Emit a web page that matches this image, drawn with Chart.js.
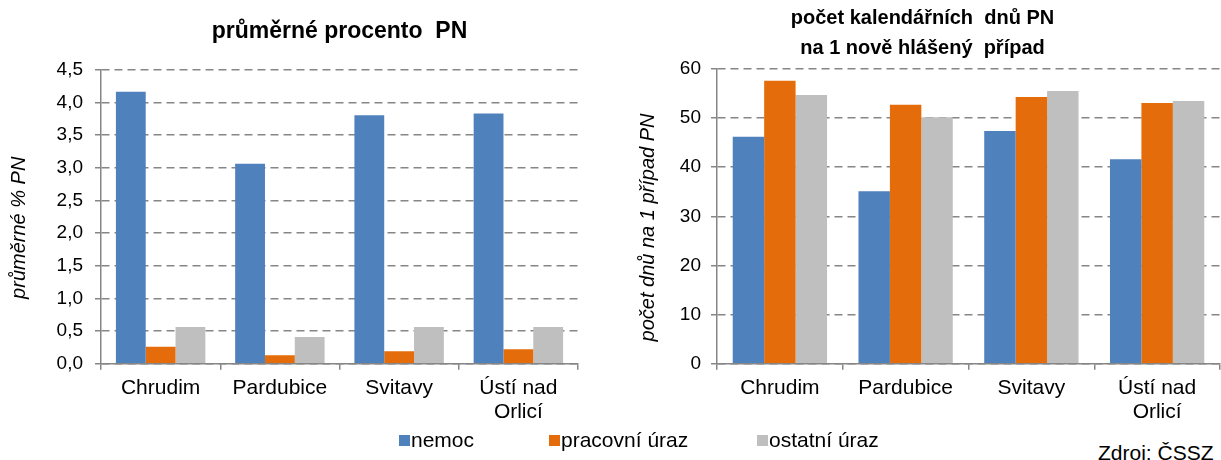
<!DOCTYPE html>
<html>
<head>
<meta charset="utf-8">
<script src="https://cdn.jsdelivr.net/npm/chart.js@4"></script>
<style>
  body { margin: 0; background: #fff; font-family: "Liberation Sans", Arial, sans-serif; }
  #wrap { position: relative; width: 1221px; height: 460px; overflow: hidden; }
  .box { position: absolute; }
  .leg { position: absolute; font-size: 21px; line-height: 22px; color: #000; white-space: nowrap; }
  .sq { position: absolute; width: 11px; height: 11px; }
</style>
</head>
<body>
<div id="wrap">
  <div class="box" style="left:0;top:0;width:590px;height:430px"><canvas id="leftChart"></canvas></div>
  <div class="box" style="left:625px;top:0;width:596px;height:430px"><canvas id="rightChart"></canvas></div>
  <div id="legend"></div>
  <div class="leg" style="left:1098px;top:442px">Zdroj: ČSSZ</div>
</div>
<script>
// ===========================
// DATA
// ===========================
const categories = ['Chrudim', 'Pardubice', 'Svitavy', ['Ústí nad', 'Orlicí']];
const seriesNames = ['nemoc', 'pracovní úraz', 'ostatní úraz'];
const seriesColors = ['#4F81BD', '#E46C0A', '#BFBFBF'];

// průměrné procento PN
const pctNemoc    = [4.16, 3.06, 3.80, 3.83];
const pctPracUraz = [0.26, 0.13, 0.19, 0.22];
const pctOstUraz  = [0.56, 0.41, 0.56, 0.56];

// počet kalendářních dnů PN na 1 nově hlášený případ
const daysNemoc    = [46.2, 35.1, 47.4, 41.6];
const daysPracUraz = [57.6, 52.7, 54.3, 53.1];
const daysOstUraz  = [54.7, 50.2, 55.5, 53.5];

const leftTicks  = [0, 0.5, 1, 1.5, 2, 2.5, 3, 3.5, 4, 4.5];
const rightTicks = [0, 10, 20, 30, 40, 50, 60];

const FONT = '"Liberation Sans", Arial, sans-serif';
Chart.defaults.font.family = FONT;
Chart.defaults.color = '#000';

function makeDatasets(values) {
  return values.map((v, i) => ({
    label: seriesNames[i],
    data: v,
    backgroundColor: seriesColors[i],
    borderWidth: 0,
    barPercentage: 1,
    categoryPercentage: 0.75,
  }));
}

function makeChart(id, values, opts) {
  return new Chart(document.getElementById(id), {
    type: 'bar',
    data: { labels: categories, datasets: makeDatasets(values) },
    options: {
      responsive: true,
      maintainAspectRatio: false,
      animation: false,
      layout: { padding: { top: 0, right: opts.padRight, left: 0, bottom: 0 } },
      plugins: {
        legend: { display: false },
        tooltip: { enabled: false },
        title: {
          display: true,
          fullSize: opts.titleFull,
          text: opts.title,
          font: { size: opts.titleSize, weight: 'bold', lineHeight: opts.titleLH },
          color: '#000',
          padding: opts.titlePad,
        }
      },
      scales: {
        x: {
          grid: {
            offset: true,
            drawOnChartArea: false,
            color: '#868686',
            tickLength: 6,
            lineWidth: 1.5,
          },
          border: { color: '#868686', width: 1.5 },
          ticks: { font: { size: 21, lineHeight: 1.15 }, color: '#000', padding: 6, maxRotation: 0 },
        },
        y: {
          min: 0,
          max: opts.ticks[opts.ticks.length - 1],
          afterBuildTicks: axis => { axis.ticks = opts.ticks.map(v => ({ value: v })); },
          afterFit: axis => { axis.width = opts.axisW; },
          grid: {
            color: '#868686',
            lineWidth: 1.5,
            tickLength: 6,
            tickBorderDash: [],
          },
          border: { color: '#868686', width: 1.5, dash: [8, 5] },
          ticks: {
            font: { size: 19 },
            color: '#000',
            padding: opts.tickPad,
            callback: opts.format,
          },
          title: {
            display: true,
            // trailing spaces nudge the rotated title a bit lower, like the original
            text: opts.yTitle + '    ',
            font: { size: 20, style: 'italic', lineHeight: 1.2 },
            color: '#000',
            padding: { top: opts.yTitleOff, bottom: 0 },
          }
        }
      }
    }
  });
}

makeChart('leftChart', [pctNemoc, pctPracUraz, pctOstUraz], {
  title: 'průměrné procento  PN',
  titleFull: false,
  titleSize: 23,
  titleLH: 1.2,
  titlePad: { top: 18, bottom: 24 },
  yTitle: 'průměrné % PN',
  yTitleOff: 7,
  axisW: 101,
  tickPad: 12,
  ticks: leftTicks,
  padRight: 12,
  format: v => v.toFixed(1).replace('.', ','),
});

makeChart('rightChart', [daysNemoc, daysPracUraz, daysOstUraz], {
  title: ['počet kalendářních  dnů PN', 'na 1 nově hlášený  případ'],
  titleFull: true,
  titleSize: 20,
  titleLH: 1.5,
  titlePad: { top: 3, bottom: 6 },
  yTitle: 'počet dnů na 1 případ PN',
  yTitleOff: 11,
  axisW: 92,
  tickPad: 10,
  ticks: rightTicks,
  padRight: 1,
  format: v => String(v),
});

// ===========================
// LEGEND
// ===========================
const legendSquareX = [399, 549, 757];
document.getElementById('legend').innerHTML = seriesNames.map((n, i) =>
  `<div class="sq" style="left:${legendSquareX[i]}px;top:435px;background:${seriesColors[i]}"></div>` +
  `<div class="leg" style="left:${legendSquareX[i] + 12}px;top:429px">${n}</div>`
).join('');
</script>
</body>
</html>
